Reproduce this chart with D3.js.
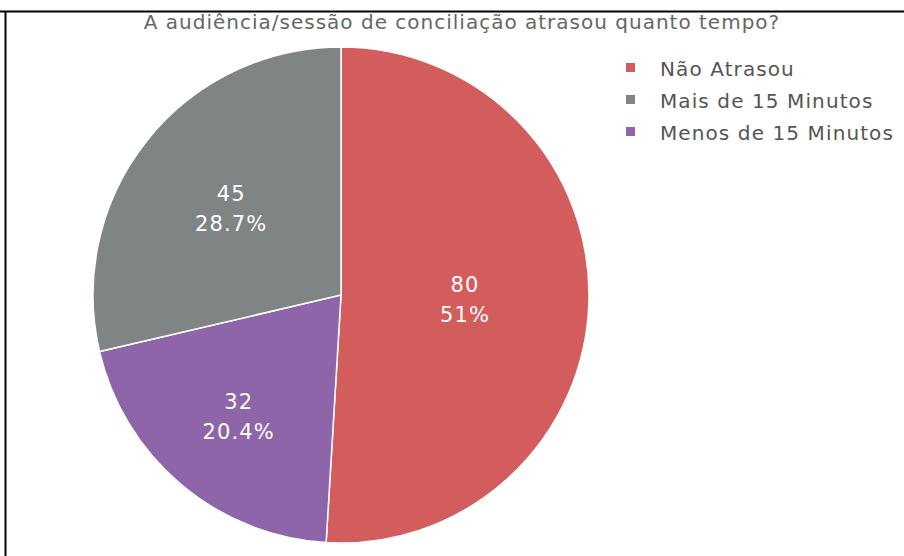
<!DOCTYPE html>
<html>
<head>
<meta charset="utf-8">
<script src="https://cdn.jsdelivr.net/npm/d3@7"></script>
<style>
    body { margin: 0; background: #fff; }
    svg { display: block; font-family: "DejaVu Sans", Verdana, sans-serif; }
</style>
</head>
<body>
<div id="chart"></div>
<script>
const title = "A audiência/sessão de conciliação atrasou quanto tempo?";
// slices in clockwise drawing order from 12 o'clock
const categories = ["Não Atrasou", "Menos de 15 Minutos", "Mais de 15 Minutos"];
const values = [80, 32, 45];
const percentLabels = ["51%", "20.4%", "28.7%"];
const colors = ["#d35d5c", "#8d65a8", "#7f8584"];
// legend lists categories by value
const legendOrder = ["Não Atrasou", "Mais de 15 Minutos", "Menos de 15 Minutos"];

const width = 904;
const height = 556;
const cx = 341, cy = 295, radius = 248;
// how far out (fraction of radius) each inside label sits
const labelPos = [0.5, 0.64, 0.565];

const svg = d3.select("#chart").append("svg")
    .attr("width", width)
    .attr("height", height);

// frame lines seen at top and left of the screenshot
svg.append("line")
    .attr("x1", 0).attr("x2", width)
    .attr("y1", 11.5).attr("y2", 11.5)
    .attr("stroke", "#000").attr("stroke-width", 2);
svg.append("line")
    .attr("x1", 5.5).attr("x2", 5.5)
    .attr("y1", 11).attr("y2", height)
    .attr("stroke", "#000").attr("stroke-width", 2);

svg.append("text")
    .attr("x", 462)
    .attr("y", 28.5)
    .attr("text-anchor", "middle")
    .attr("fill", "#666")
    .style("font-size", "20px")
    .style("letter-spacing", "1px")
    .text(title);

const color = d3.scaleOrdinal().domain(categories).range(colors);

const pie = d3.pie().sort(null).value(d => d.value);
const arcs = pie(categories.map((c, i) => ({ name: c, value: values[i], pct: percentLabels[i], idx: i })));
const arc = d3.arc().innerRadius(0).outerRadius(radius);

const g = svg.append("g")
    .attr("transform", "translate(" + cx + "," + cy + ")");

g.selectAll("path")
    .data(arcs)
    .enter()
    .append("path")
    .attr("d", arc)
    .attr("fill", d => color(d.data.name))
    .attr("stroke", "#fff")
    .attr("stroke-width", 1.5);

const labels = g.selectAll("text.lbl")
    .data(arcs)
    .enter()
    .append("text")
    .attr("class", "lbl")
    .attr("text-anchor", "middle")
    .attr("fill", "#fff")
    .style("font-size", "21px")
    .style("letter-spacing", "1.1px")
    .attr("transform", d => {
        const a = (d.startAngle + d.endAngle) / 2;
        const r = radius * labelPos[d.data.idx];
        return "translate(" + (Math.sin(a) * r) + "," + (-Math.cos(a) * r) + ")";
    });
labels.append("tspan")
    .attr("x", 0).attr("y", -7)
    .text(d => d.data.value);
labels.append("tspan")
    .attr("x", 0).attr("y", 23)
    .text(d => d.data.pct);

const legend = svg.append("g")
    .attr("transform", "translate(626,67.5)");
const item = legend.selectAll("g")
    .data(legendOrder)
    .enter()
    .append("g")
    .attr("transform", (d, i) => "translate(0," + (i * 32) + ")");
item.append("rect")
    .attr("x", 0).attr("y", -4.5)
    .attr("width", 9).attr("height", 9)
    .attr("fill", d => color(d));
item.append("text")
    .attr("x", 34).attr("y", 8)
    .attr("fill", "#555")
    .style("font-size", "20px")
    .style("letter-spacing", "1.1px")
    .text(d => d);
</script>
</body>
</html>
